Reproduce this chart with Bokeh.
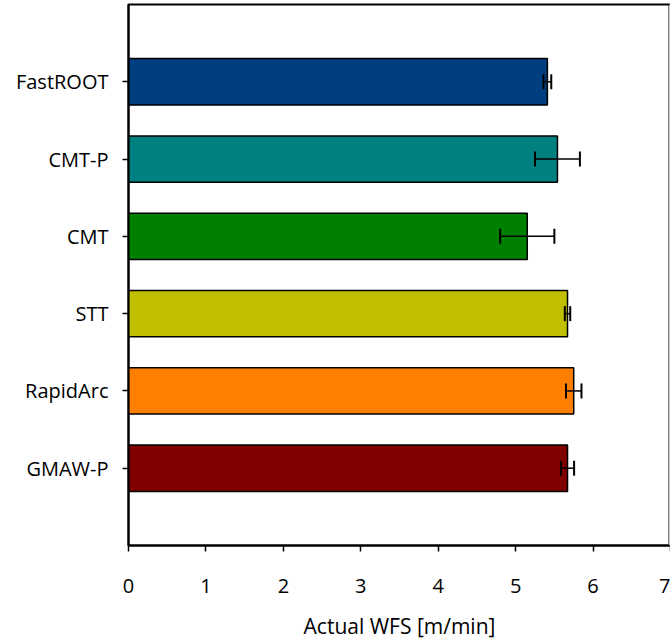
from bokeh.plotting import figure
from bokeh.models import (ColumnDataSource, Range1d, FixedTicker, Whisker, TeeHead, Span)
from bokeh.embed import file_html
from bokeh.resources import INLINE

# Wire feed speed per welding process (top to bottom)
processes = ["FastROOT", "CMT-P", "CMT", "STT", "RapidArc", "GMAW-P"]
wfs_mean = [5.41, 5.54, 5.15, 5.67, 5.75, 5.67]
wfs_err = [0.05, 0.29, 0.35, 0.035, 0.10, 0.085]
colors = ["#003F7F", "#008080", "#008000", "#C0C000", "#FF8000", "#800000"]
x_ticks = [0, 1, 2, 3, 4, 5, 6, 7]

n = len(processes)
ypos = [n - i for i in range(n)]  # FastROOT on top

src = ColumnDataSource(dict(
    y=ypos,
    mean=wfs_mean,
    lower=[m - e for m, e in zip(wfs_mean, wfs_err)],
    upper=[m + e for m, e in zip(wfs_mean, wfs_err)],
    color=colors,
))

FONT = "Open Sans"

p = figure(width=670, height=642, output_backend="svg", toolbar_location=None,
           x_range=Range1d(0, 7), y_range=Range1d(0, n + 1),
           min_border_left=128, min_border_right=0,
           min_border_top=4, min_border_bottom=95)
p.background_fill_color = "white"
p.border_fill_color = "white"
p.outline_line_color = "black"
p.outline_line_width = 2
p.xgrid.visible = False
p.ygrid.visible = False

p.hbar(y="y", right="mean", left=0, height=0.6, fill_color="color",
       line_color="black", line_width=1.5, source=src)

cap = dict(size=15, line_color="black", line_width=2)
p.add_layout(Whisker(source=src, base="y", lower="lower", upper="upper",
                     dimension="width", line_color="black", line_width=1.5,
                     level="overlay",
                     upper_head=TeeHead(**cap), lower_head=TeeHead(**cap)))

# Right frame edge in light grey
p.add_layout(Span(location=7, dimension="height", line_color="#C8C8C8",
                  line_width=3, level="overlay"))

# x axis
p.xaxis.ticker = FixedTicker(ticks=x_ticks)
p.xaxis.axis_label = "Actual WFS [m/min]"
p.xaxis.axis_label_text_font = FONT
p.xaxis.axis_label_text_font_size = "21px"
p.xaxis.axis_label_text_font_style = "normal"
p.xaxis.axis_label_text_color = "black"
p.xaxis.axis_label_standoff = 16
p.xaxis.major_label_text_font = FONT
p.xaxis.major_label_text_font_size = "20px"
p.xaxis.major_label_text_color = "black"
p.xaxis.major_label_standoff = 27
p.xaxis.axis_line_color = "black"
p.xaxis.axis_line_width = 2
p.xaxis.major_tick_line_color = "black"
p.xaxis.major_tick_line_width = 1.5
p.xaxis.major_tick_out = 6
p.xaxis.major_tick_in = 0
p.xaxis.minor_tick_line_color = None

# y axis with process names
p.yaxis.ticker = FixedTicker(ticks=ypos)
p.yaxis.major_label_overrides = {y: name for y, name in zip(ypos, processes)}
p.yaxis.major_label_text_font = FONT
p.yaxis.major_label_text_font_size = "20px"
p.yaxis.major_label_text_color = "black"
p.yaxis.major_label_standoff = 14
p.yaxis.axis_line_color = "black"
p.yaxis.axis_line_width = 2
p.yaxis.major_tick_line_color = "black"
p.yaxis.major_tick_line_width = 1.5
p.yaxis.major_tick_out = 6
p.yaxis.major_tick_in = 0
p.yaxis.minor_tick_line_color = None

open("out.html", "w").write(file_html(p, INLINE))
